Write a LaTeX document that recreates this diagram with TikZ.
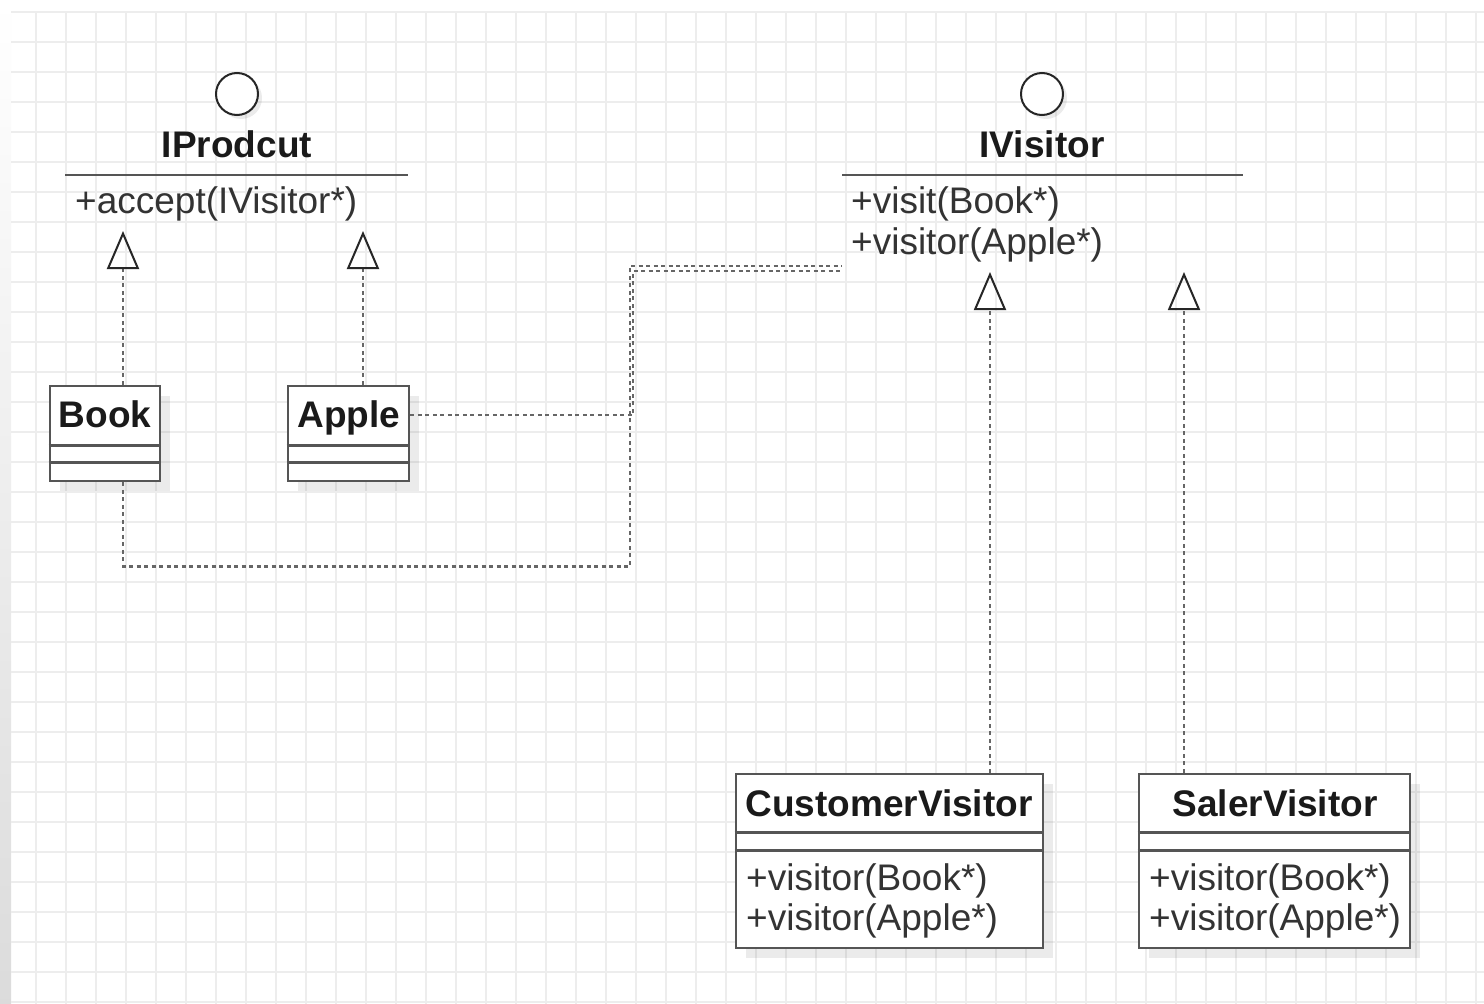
\documentclass[tikz,border=0pt]{standalone}
\usepackage{fontspec}
\setmainfont{Liberation Sans}
\usetikzlibrary{arrows.meta,shadows,calc}
\definecolor{gridc}{HTML}{EDEDED}
\definecolor{boxc}{HTML}{555555}
\definecolor{txtc}{HTML}{1A1A1A}
\definecolor{methc}{HTML}{333333}
\definecolor{depc}{HTML}{666666}
\begin{document}
\begin{tikzpicture}[x=1pt,y=-1pt,
  title/.style={font=\fontsize{37pt}{44pt}\selectfont\bfseries, text=txtc, inner sep=0pt, anchor=base},
  meth/.style={font=\fontsize{37pt}{44pt}\selectfont, text=methc, inner sep=0pt, anchor=base west},
  umlbox/.style={draw=boxc, line width=2.8pt, fill=white, inner sep=0pt, rectangle,
     drop shadow={shadow xshift=10pt, shadow yshift=-10pt, fill=black, opacity=0.08}},
  iface/.style={draw=black!85, line width=2pt, fill=white, circle, minimum size=42pt, inner sep=0pt,
     drop shadow={shadow xshift=4pt, shadow yshift=-4pt, fill=black, opacity=0.08}},
  sepline/.style={draw=boxc, line width=2.8pt},
  realize/.style={draw=depc, line width=2.6pt, dash pattern=on 4pt off 3.5pt,
     -{Triangle[open, length=38pt, width=32pt, line width=2pt, color=black!85]}},
  depline/.style={draw=depc, line width=2.6pt, dash pattern=on 4pt off 3.5pt}
]
\useasboundingbox (0,0) rectangle (1484,1004);
% background and grid
\fill[white] (0,0) rectangle (1484,1004);
\shade[top color=white, bottom color=black!14] (0,0) rectangle (11,1004);
\foreach \gx in {36,66,...,1476} \draw[gridc, line width=1.2pt] (\gx,12) -- (\gx,1004);
\foreach \gy in {12,42,...,1002} \draw[gridc, line width=1.2pt] (11,\gy) -- (1484,\gy);

% IProdcut interface
\node[iface] (cIP) at (237,94) {};
\node[title] (tIP) at (237,157) {IProdcut};
\draw[sepline] (65,175) -- (408,175);
\node[meth] (mAccept) at (75,213) {+accept(IVisitor*)};
\coordinate (tipBook) at (123,231);
\coordinate (tipApple) at (363,231);

% IVisitor interface
\node[iface] (cIV) at (1042,94) {};
\node[title] (tIV) at (1042,157) {IVisitor};
\draw[sepline] (842,175) -- (1243,175);
\node[meth] (mVisitBook) at (851,213) {+visit(Book*)};
\node[meth] (mVisitApple) at (851,254) {+visitor(Apple*)};
\coordinate (tipCV) at (990,272);
\coordinate (tipSV) at (1184,272);
\coordinate (ivB) at (842,266);
\coordinate (ivA) at (842,271);

% Book
\node[umlbox, minimum width=110pt, minimum height=95pt] (Book) at (105,433.5) {};
\draw[sepline] ([yshift=-61pt]Book.north west) -- ([yshift=-61pt]Book.north east);
\draw[sepline] ([yshift=-78pt]Book.north west) -- ([yshift=-78pt]Book.north east);
\node[title] (tBook) at (105,427) {Book};

% Apple
\node[umlbox, minimum width=121pt, minimum height=95pt] (Apple) at (348.5,433.5) {};
\draw[sepline] ([yshift=-61pt]Apple.north west) -- ([yshift=-61pt]Apple.north east);
\draw[sepline] ([yshift=-78pt]Apple.north west) -- ([yshift=-78pt]Apple.north east);
\node[title] (tApple) at (349,427) {Apple};

% CustomerVisitor
\node[umlbox, minimum width=307pt, minimum height=174pt] (CV) at (889.5,861) {};
\draw[sepline] ([yshift=-60pt]CV.north west) -- ([yshift=-60pt]CV.north east);
\draw[sepline] ([yshift=-78pt]CV.north west) -- ([yshift=-78pt]CV.north east);
\node[title] (tCV) at (889,816) {CustomerVisitor};
\node[meth] (mCV1) at (746,890) {+visitor(Book*)};
\node[meth] (mCV2) at (746,930) {+visitor(Apple*)};

% SalerVisitor
\node[umlbox, minimum width=271pt, minimum height=174pt] (SV) at (1274.5,861) {};
\draw[sepline] ([yshift=-60pt]SV.north west) -- ([yshift=-60pt]SV.north east);
\draw[sepline] ([yshift=-78pt]SV.north west) -- ([yshift=-78pt]SV.north east);
\node[title] (tSV) at (1275,816) {SalerVisitor};
\node[meth] (mSV1) at (1149,890) {+visitor(Book*)};
\node[meth] (mSV2) at (1149,930) {+visitor(Apple*)};

% realizations
\draw[realize] (tipBook |- Book.north) -- (tipBook);
\draw[realize] (tipApple |- Apple.north) -- (tipApple);
\draw[realize] (tipCV |- CV.north) -- (tipCV);
\draw[realize] (tipSV |- SV.north) -- (tipSV);

% dependencies
\draw[depline] (tipBook |- Book.south) -- ($(tipBook |- Book.south)+(0,84)$) -| (630,266) -- (ivB);
\draw[depline] (Apple.east |- 0,415) -- (633,415) -- (633,271) -- (ivA);
\end{tikzpicture}
\end{document}
